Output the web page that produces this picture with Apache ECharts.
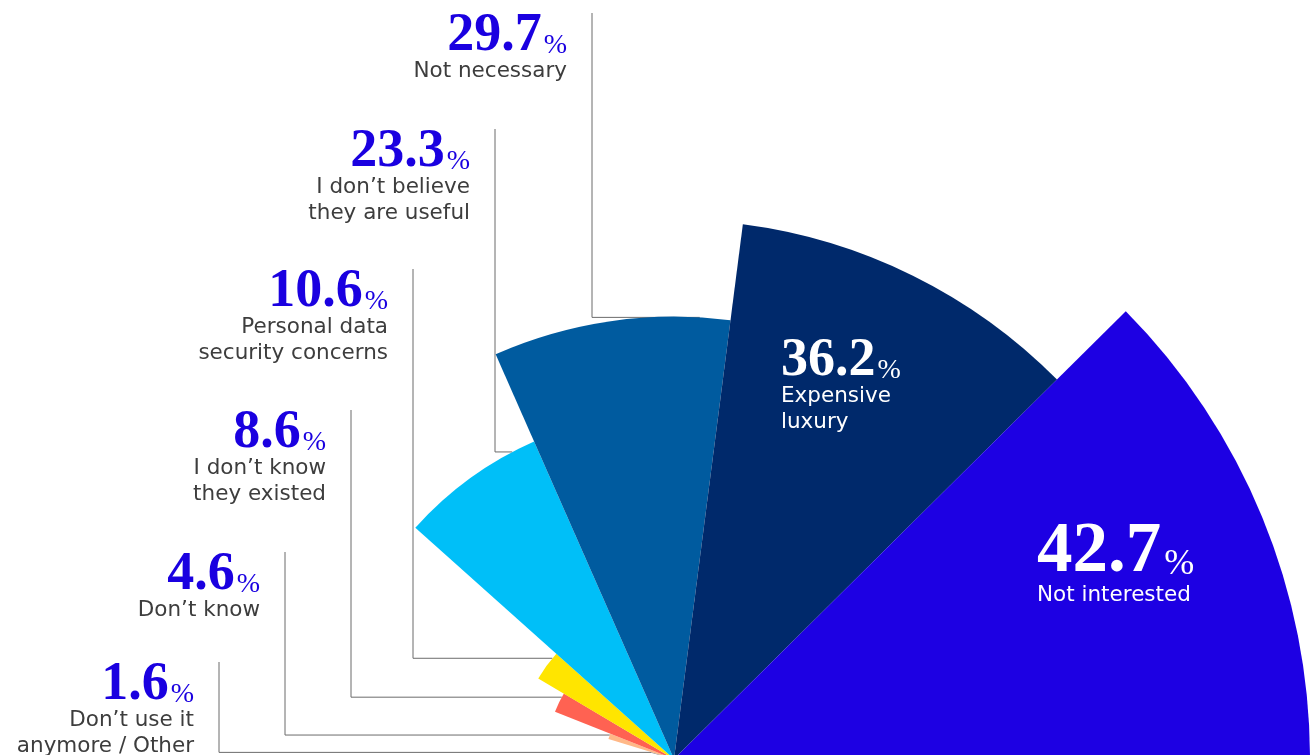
<!DOCTYPE html>
<html>
<head>
<meta charset="utf-8">
<script src="https://cdn.jsdelivr.net/npm/echarts@6/dist/echarts.min.js"></script>
<style>
html,body{margin:0;padding:0;background:#ffffff;}
#chart{width:1310px;height:755px;}
</style>
</head>
<body>
<div id="chart"></div>
<script>
// ---- data ----
const categories = [
  'Don\u2019t use it\nanymore / Other',
  'Don\u2019t know',
  'I don\u2019t know\nthey existed',
  'Personal data\nsecurity concerns',
  'I don\u2019t believe\nthey are useful',
  'Not necessary',
  'Expensive\nluxury',
  'Not interested'
];
const values = [1.6, 4.6, 8.6, 10.6, 23.3, 29.7, 36.2, 42.7];

// ---- styles / layout (not data) ----
const sliceColors = ['#8c8c8c', '#ffb887', '#ff6252', '#ffe500', '#00bff8', '#005b9f', '#00296b', '#1d00e3'];
const labelKind = ['out', 'out', 'out', 'out', 'out', 'out', 'in', 'inBig'];
const labelAnchorX = [194, 260, 326, 388, 470, 567, 781, 1037];
const labelAnchorY = [664, 554, 412, 271, 131, 15, 340, 523];

const NUM_FONT = '"Liberation Serif", "DejaVu Serif", serif';
const TXT_FONT = '"DejaVu Sans", "Noto Sans", sans-serif';
const BLUE_TXT = '#1a00e0';

function richFor(kind) {
  const out = kind === 'out';
  const big = kind === 'inBig';
  const align = out ? 'right' : 'left';
  const col = out ? BLUE_TXT : '#ffffff';
  return {
    num: {fontFamily: NUM_FONT, fontWeight: 'bold', fontSize: big ? 71 : 54, color: col,
          lineHeight: big ? 59 : 43, align: align},
    pct: {fontFamily: NUM_FONT, fontSize: big ? 36 : 28, color: col,
          lineHeight: big ? 26 : 20, padding: big ? [24, 0, 0, 3] : [18, 0, 0, 2], align: align},
    txt: {fontFamily: TXT_FONT, fontSize: 21.5, color: out ? '#3d3d3d' : '#ffffff',
          lineHeight: 26, align: align}
  };
}

const chart = echarts.init(document.getElementById('chart'), null, {renderer: 'canvas'});

const seriesData = values.map((v, i) => ({
  name: categories[i],
  value: v,
  itemStyle: {color: sliceColors[i]},
  label: {
    show: true,
    formatter: '{num|' + v.toFixed(1) + '}{pct|%}\n' +
      categories[i].split('\n').map(s => '{txt|' + s + '}').join('\n'),
    rich: richFor(labelKind[i])
  }
}));

chart.setOption({
  animation: false,
  backgroundColor: '#ffffff',
  series: [{
    type: 'pie',
    roseType: 'radius',
    center: [674, 759],
    radius: [0, 636],
    startAngle: 164.8,
    endAngle: 0,
    clockwise: true,
    avoidLabelOverlap: false,
    silent: true,
    emphasis: {disabled: true},
    label: {show: true, position: 'inside', textBorderWidth: 0},
    labelLine: {show: false},
    labelLayout: function (params) {
      const i = params.dataIndex;
      return {
        x: labelAnchorX[i],
        y: labelAnchorY[i],
        align: labelKind[i] === 'out' ? 'right' : 'left',
        verticalAlign: 'top'
      };
    },
    data: seriesData
  }]
});

// leader lines computed from the library's own pie layout
const data = chart.getModel().getSeriesByIndex(0).getData();
const elements = [];
for (let i = 0; i < values.length; i++) {
  if (labelKind[i] !== 'out') continue;
  const lay = data.getItemLayout(i);
  const span = lay.endAngle - lay.startAngle;
  const off = Math.min(0.15 * span + 0.5 * Math.PI / 180, 4 * Math.PI / 180);
  const a = lay.endAngle - off;
  const px = lay.cx + lay.r * Math.cos(a);
  const py = lay.cy + lay.r * Math.sin(a);
  const vx = labelAnchorX[i] + 25;
  const vy = labelAnchorY[i] - 2;
  elements.push({
    type: 'polyline',
    silent: true,
    z: -1,
    shape: {points: [[vx, vy], [vx, py], [px, py]]},
    style: {stroke: '#6b6b6b', lineWidth: 1, fill: null}
  });
}
chart.setOption({graphic: {elements: elements}});
</script>
</body>
</html>
